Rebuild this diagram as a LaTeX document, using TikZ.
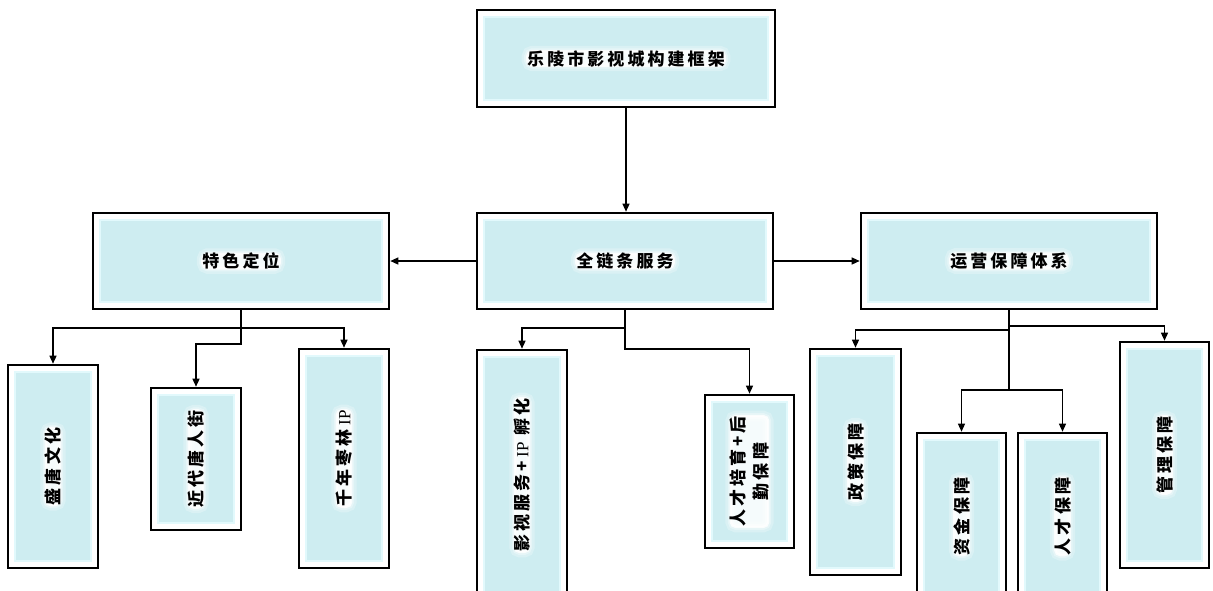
\documentclass[tikz,border=0pt]{standalone}
\usepackage{fontspec}
\setmainfont{Noto Sans CJK SC}[LetterSpace=18]
\newfontfamily\latin{Liberation Serif}
\usetikzlibrary{arrows.meta}
\definecolor{panelfill}{RGB}{206,237,241}
\definecolor{panelrim}{RGB}{226,249,252}
\newcommand{\ip}{{\latin\mdseries\ IP}}
\tikzset{
  panel/.style={draw=black, line width=2.6pt, fill=white, inner sep=0pt,
    path picture={\fill[panelfill, draw=panelrim, line width=2pt]
      ([shift={(7pt,7pt)}]path picture bounding box.south west) rectangle
      ([shift={(-7pt,-7pt)}]path picture bounding box.north east);}},
  caption/.style={rounded corners=5pt, inner xsep=0pt, inner ysep=-1pt,
    font=\fontsize{17pt}{23pt}\selectfont\bfseries,
    preaction={draw=white, line width=11pt, opacity=.25},
    preaction={draw=white, line width=6pt, opacity=.35},
    preaction={fill=white, draw=white, line width=2.5pt, opacity=.8}},
  link/.style={line width=1.3pt, -{Triangle[length=8pt,width=7pt]}},
}
\begin{document}
\begin{tikzpicture}[x=1pt,y=-1pt]
\useasboundingbox (0,0) rectangle (1213,590);

\node[panel,minimum width=298pt,minimum height=97pt] (frame) at (626,58.5) {};

\node[panel,minimum width=296pt,minimum height=96pt] (pos) at (241,261) {};
\node[panel,minimum width=296pt,minimum height=96pt] (chain) at (625,261) {};
\node[panel,minimum width=296pt,minimum height=96pt] (ops) at (1009,261) {};

\node[panel,minimum width=90pt,minimum height=203pt] (tang) at (53,466.5) {};
\node[panel,minimum width=90pt,minimum height=142pt] (street) at (196,459) {};
\node[panel,minimum width=90pt,minimum height=219pt] (zao) at (344,458.5) {};
\node[panel,minimum width=90pt,minimum height=250pt] (film) at (522,475) {};
\node[panel,minimum width=89pt,minimum height=153pt] (talent) at (749.5,471.5) {};
\node[panel,minimum width=91pt,minimum height=226pt] (policy) at (855.5,462) {};
\node[panel,minimum width=89pt,minimum height=167pt] (fund) at (961.5,516.5) {};
\node[panel,minimum width=89pt,minimum height=167pt] (people) at (1062.5,516.5) {};
\node[panel,minimum width=89pt,minimum height=226pt] (manage) at (1164.5,455) {};

% captions
\node[caption] (frametext) at (frame) {乐陵市影视城构建框架};
\node[caption] (postext) at (pos) {特色定位};
\node[caption] (chaintext) at (chain) {全链条服务};
\node[caption] (opstext) at (ops) {运营保障体系};
\node[caption,rotate=90] (tangtext) at (tang) {盛唐文化};
\node[caption,rotate=90] (streettext) at (street) {近代唐人街};
\node[caption,rotate=90] (zaotext) at (zao) {千年枣林\ip};
\node[caption,rotate=90] (filmtext) at (film) {影视服务+\ip\ 孵化};
\node[caption,rotate=90,align=center] (talenttext) at (talent) {人才培育+后\\勤保障};
\node[caption,rotate=90] (policytext) at (policy) {政策保障};
\node[caption,rotate=90] (fundtext) at (fund) {资金保障};
\node[caption,rotate=90] (peopletext) at (people) {人才保障};
\node[caption,rotate=90] (managetext) at (manage) {管理保障};

% top level
\draw[link] (frame.south) -- (frame.south|-chain.north);
\draw[link] (chain.west) -- (pos.east);
\draw[link] (chain.east) -- (ops.west);

% left branch
\coordinate (posfork) at (241,328);
\coordinate (posstep) at (241,344);
\draw[link] (pos.south) -- (posfork) -| (tang.north);
\draw[link] (posfork) -| (zao.north);
\draw[link] (posfork) -- (posstep) -| (street.north);

% middle branch
\coordinate (chainfork) at (625,328);
\coordinate (chainstep) at (625,349);
\draw[link] (chain.south) -- (chainfork) -| (film.north);
\draw[link] (chainfork) -- (chainstep) -| (talent.north);

% right branch
\coordinate (opsfork) at (1009,326);
\coordinate (opsleft) at (1009,330);
\coordinate (opsstep) at (1009,390);
\draw[link] (ops.south) -- (opsstep) -| (fund.north);
\draw[link] (opsstep) -| (people.north);
\draw[link] (opsfork) -| (manage.north);
\draw[link] (opsleft) -| (policy.north);
\end{tikzpicture}
\end{document}
